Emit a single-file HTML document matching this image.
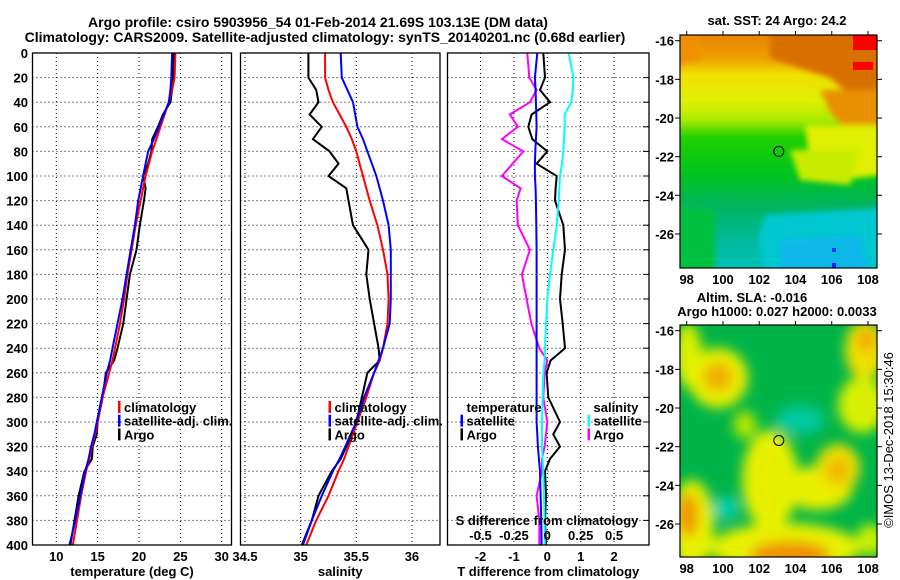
<!DOCTYPE html>
<html><head><meta charset="utf-8"><style>
html,body{margin:0;padding:0;background:#fff;}
svg{display:block;font-family:"Liberation Sans",sans-serif;font-weight:bold;}
</style></head><body>
<svg id="chart" width="900" height="580" viewBox="0 0 900 580" xmlns="http://www.w3.org/2000/svg">
<defs>
<filter id="blur1" x="-50%" y="-50%" width="200%" height="200%"><feGaussianBlur stdDeviation="6"/></filter>
<filter id="blur2" x="-50%" y="-50%" width="200%" height="200%"><feGaussianBlur stdDeviation="3"/></filter>
<clipPath id="clipM1"><rect x="680" y="35" width="197" height="233"/></clipPath>
<clipPath id="clipM2"><rect x="680" y="325" width="197" height="232"/></clipPath>
<linearGradient id="sstGrad" x1="0" y1="0" x2="0" y2="1">
<stop offset="0" stop-color="#e88400"/><stop offset="0.1" stop-color="#f0a000"/>
<stop offset="0.17" stop-color="#f0e000"/><stop offset="0.28" stop-color="#e0f000"/>
<stop offset="0.36" stop-color="#b0ec00"/><stop offset="0.44" stop-color="#20d000"/>
<stop offset="0.6" stop-color="#00c420"/><stop offset="0.72" stop-color="#00b458"/>
<stop offset="0.85" stop-color="#00b890"/><stop offset="1" stop-color="#00c0b8"/>
</linearGradient>
</defs>
<g font-size="14" text-anchor="middle">
<text x="318" y="27">Argo profile: csiro 5903956_54 01-Feb-2014 21.69S 103.13E (DM data)</text>
<text x="325" y="42">Climatology: CARS2009. Satellite-adjusted climatology: synTS_20140201.nc (0.68d earlier)</text>
</g>
<g id="panels"></g>

<!-- SST map -->
<g>
<text x="777" y="25" font-size="13" text-anchor="middle">sat. SST: 24 Argo: 24.2</text>
<g clip-path="url(#clipM1)">
<rect x="680" y="35" width="197" height="233" fill="url(#sstGrad)"/>
<g filter="url(#blur2)">
<polygon points="770,30 882,30 882,95 850,95 830,78 800,68 770,58" fill="#d87000"/>
<polygon points="675,30 700,30 700,60 675,65" fill="#f09000"/>
<polygon points="820,90 882,90 882,135 850,135 830,112" fill="#e89000"/>
<polygon points="805,125 882,125 882,175 840,180 810,165" fill="#e0ee00"/>
<polygon points="790,150 860,150 850,185 800,180" fill="#c8ec00"/>
<polygon points="765,215 882,208 882,272 765,272 758,240" fill="#00c8d0"/>
<polygon points="780,240 860,235 870,272 780,272" fill="#10b8e8"/>
<polygon points="675,205 715,210 715,272 675,272" fill="#00c040"/>
</g>
<rect x="853" y="35" width="24" height="15" fill="#ff0000"/>
<rect x="853" y="62" width="20" height="8" fill="#ff0000"/>
<rect x="832" y="248" width="4" height="4" fill="#0040ff"/>
<rect x="832" y="263" width="4" height="5" fill="#0020ff"/>
</g>
<rect x="680" y="35" width="197" height="233" fill="none" stroke="#000" stroke-width="1.2"/>
<circle cx="778.8" cy="151.4" r="5" fill="none" stroke="#000" stroke-width="1"/>
<g id="m1axes"></g>
</g>

<!-- SLA map -->
<g>
<text x="752" y="302" font-size="13" text-anchor="middle">Altim. SLA: -0.016</text>
<text x="777" y="316" font-size="13" text-anchor="middle">Argo h1000: 0.027 h2000: 0.0033</text>
<g clip-path="url(#clipM2)">
<rect x="680" y="325" width="197" height="232" fill="#00b448"/>
<g filter="url(#blur1)">
<ellipse cx="688" cy="355" rx="14" ry="32" fill="#d8f000"/>
<ellipse cx="718" cy="378" rx="30" ry="30" fill="#e8f000"/>
<ellipse cx="718" cy="377" rx="15" ry="15" fill="#f0b000"/>
<ellipse cx="692" cy="525" rx="22" ry="45" fill="#e8f000"/>
<ellipse cx="688" cy="515" rx="10" ry="22" fill="#f09000"/>
<ellipse cx="785" cy="548" rx="75" ry="25" fill="#e8f000"/>
<ellipse cx="790" cy="555" rx="40" ry="14" fill="#f09000"/>
<ellipse cx="770" cy="480" rx="28" ry="50" fill="#e8f000"/>
<ellipse cx="818" cy="488" rx="35" ry="22" fill="#e8f000"/>
<ellipse cx="838" cy="468" rx="22" ry="24" fill="#f0e000"/>
<ellipse cx="838" cy="470" rx="10" ry="12" fill="#f0b000"/>
<ellipse cx="865" cy="350" rx="20" ry="30" fill="#f0e000"/>
<ellipse cx="866" cy="340" rx="8" ry="12" fill="#f0a000"/>
<ellipse cx="862" cy="405" rx="24" ry="28" fill="#d8f000"/>
<ellipse cx="870" cy="540" rx="14" ry="16" fill="#c8f000"/>
<ellipse cx="800" cy="420" rx="24" ry="15" fill="#00c8a0"/>
<ellipse cx="726" cy="508" rx="12" ry="12" fill="#00d0b0"/>
<ellipse cx="745" cy="425" rx="12" ry="14" fill="#b0e800"/>
</g>
</g>
<rect x="680" y="325" width="197" height="232" fill="none" stroke="#000" stroke-width="1.2"/>
<circle cx="778.8" cy="440.5" r="5" fill="none" stroke="#000" stroke-width="1"/>
<g id="m2axes"></g>
</g>
<text transform="translate(893,440) rotate(-90)" font-size="13" font-weight="normal" text-anchor="middle">©IMOS 13-Dec-2018 15:30:46</text>

<script>
// ---------- data ----------
const depths = [0,20,30,40,50,60,70,80,90,100,110,120,140,160,180,200,220,240,250,260,280,300,310,320,330,340,360,380,400];
const tempClim = [24.4,24.3,24.0,23.6,23.1,22.6,22.1,21.6,21.2,20.8,20.5,20.2,19.6,19.1,18.6,18.2,17.7,17.1,16.8,16.4,15.6,15.0,14.7,14.3,14.0,13.6,13.0,12.5,12.0];
const tempSat = [24.0,23.9,23.8,23.6,23.0,22.4,21.8,21.1,20.8,20.5,20.2,19.9,19.5,19.0,18.5,18.0,17.4,16.8,16.5,16.1,15.5,14.9,14.6,14.2,13.9,13.5,12.9,12.3,11.6];
const tempArgo = [24.2,24.1,24.0,23.8,22.9,22.3,21.6,21.5,21.1,20.5,20.8,20.6,20.1,19.7,18.9,18.5,18.1,17.4,17.0,16.0,15.6,15.0,14.9,14.4,14.3,13.4,12.7,12.2,11.7];
const salClim = [35.22,35.22,35.25,35.29,35.35,35.41,35.46,35.50,35.53,35.56,35.59,35.62,35.69,35.74,35.78,35.79,35.78,35.74,35.71,35.66,35.59,35.51,35.47,35.43,35.39,35.34,35.25,35.14,35.05];
const salSat = [35.36,35.37,35.42,35.47,35.49,35.51,35.56,35.60,35.64,35.68,35.71,35.74,35.79,35.81,35.81,35.81,35.80,35.74,35.70,35.66,35.57,35.50,35.45,35.40,35.35,35.29,35.19,35.10,35.02];
const salArgo = [35.07,35.07,35.14,35.16,35.08,35.19,35.11,35.26,35.34,35.25,35.41,35.43,35.47,35.61,35.59,35.62,35.66,35.70,35.71,35.60,35.55,35.50,35.46,35.41,35.36,35.28,35.16,35.10,35.01];
const dTempSat = [-0.30,-0.37,-0.35,-0.34,-0.33,-0.32,-0.34,-0.36,-0.37,-0.37,-0.35,-0.34,-0.33,-0.32,-0.32,-0.32,-0.32,-0.32,-0.32,-0.32,-0.32,-0.32,-0.30,-0.28,-0.25,-0.22,-0.20,-0.18,-0.17];
const dTempArgo = [-0.12,-0.07,-0.22,0.08,-0.47,-0.57,-0.45,0.0,-0.32,0.28,0.25,0.23,0.48,0.53,0.43,0.38,0.46,0.53,0.1,-0.02,0.03,0.38,0.18,0.38,0.08,-0.07,-0.04,-0.07,-0.04];
const dSalSat = [0.16,0.195,0.19,0.18,0.13,0.13,0.125,0.12,0.11,0.095,0.09,0.085,0.07,0.045,0.02,0.0,-0.01,-0.018,-0.02,-0.03,-0.035,-0.04,-0.04,-0.04,-0.035,-0.03,-0.025,-0.02,-0.018];
const dSalArgo = [-0.15,-0.135,-0.08,-0.13,-0.28,-0.22,-0.34,-0.18,-0.26,-0.34,-0.2,-0.23,-0.22,-0.13,-0.19,-0.155,-0.12,-0.06,0.0,-0.02,-0.03,0.0,-0.01,-0.02,-0.04,-0.04,-0.08,-0.06,-0.06];
const depthTicks = [0,20,40,60,80,100,120,140,160,180,200,220,240,260,280,300,320,340,360,380,400];
const tempTicks = [10,15,20,25,30];
const salTicks = [34.5,35,35.5,36];
const dTempTicks = [-2,-1,0,1,2];
const dSalTickLabels = ["-0.5","-0.25","0","0.25","0.5"];
const latTicks = [-16,-18,-20,-22,-24,-26];
const lonTicks = [98,100,102,104,106,108];

// ---------- scales ----------
const NS = "http://www.w3.org/2000/svg";
const TOP = 53, BOT = 545;
const yD = d => TOP + (BOT - TOP) * d / 400;
const xT = t => 56.3 + (t - 10) * 8.27;
const xS = s => 245 + (s - 34.5) * 111.3;
const xDT = v => 547.3 + v * 33.4;
const xDS = v => 547.3 + v * 133.6;
const latY1 = la => 40.7 + (-16 - la) * 19.33;
const latY2 = la => 330.7 + (-16 - la) * 19.33;
const lonX = lo => 686.7 + (lo - 98) * 18.13;

function mk(tag, attrs, parent) {
  const e = document.createElementNS(NS, tag);
  for (const k in attrs) e.setAttribute(k, attrs[k]);
  parent.appendChild(e);
  return e;
}
const root = document.getElementById('panels');

function panel(name, x0, x1, xTicks, xfn, xLabels, xTitle, showY) {
  const g = mk('g', {}, root);
  
  
  depthTicks.forEach(d => {
    if (d === 0 || d === 400) return;
    const l = mk('line', {x1: x0, x2: x1, y1: yD(d), y2: yD(d), stroke: '#000', 'stroke-width': 1, 'stroke-dasharray': '1,3'}, g);
    
    
  });
  xTicks.forEach((t, i) => {
    const x = xfn(t);
    if (x > x0 + 2 && x < x1 - 2) {
      const l = mk('line', {x1: x, x2: x, y1: TOP, y2: BOT, stroke: '#000', 'stroke-width': 1, 'stroke-dasharray': '1,3'}, g);
      
      
    }
    const tx = mk('text', {x: x, y: 561, 'font-size': 13, 'text-anchor': 'middle'}, g);
    tx.textContent = xLabels[i];
    
    
  });
  const tt = mk('text', {x: (x0 + x1) / 2, y: 576, 'font-size': 13, 'text-anchor': 'middle'}, g);
  tt.textContent = xTitle;
  
  
  if (showY) {
    depthTicks.forEach(d => {
      const ty = mk('text', {x: 28, y: yD(d) + 5, 'font-size': 13, 'text-anchor': 'end'}, g);
      ty.textContent = d;
      
      
    });
  }
  return g;
}
function series(g, name, xs, xfn, color) {
  const pts = depths.map((d, i) => xfn(xs[i]).toFixed(1) + ',' + yD(d).toFixed(1)).join(' ');
  const p = mk('polyline', {points: pts, fill: 'none', stroke: color, 'stroke-width': 2, 'stroke-linejoin': 'miter'}, g);
  
  
}
function frame(g, x0, x1) {
  const r = mk('rect', {x: x0, y: TOP, width: x1 - x0, height: BOT - TOP, fill: 'none', stroke: '#000', 'stroke-width': 1.3}, g);
  
  
}
function legend(g, name, x, rows) {
  const lg = mk('g', {}, g);
  
  
  rows.forEach((r, i) => {
    const y = 407 + i * 13.7;
    if (r[1]) {
      const b = mk('rect', {x: x, y: y - 6, width: 2.5, height: 12, fill: r[1]}, lg);
      
      
    }
    const t = mk('text', {x: x + 6, y: y + 5, 'font-size': 13}, lg);
    t.textContent = r[0];
    
    
  });
}

const p1 = panel('temperature-panel', 32.5, 231.5, tempTicks, xT, tempTicks, 'temperature (deg C)', true);
series(p1, 'temp-argo-line', tempArgo, xT, '#000');
series(p1, 'temp-clim-line', tempClim, xT, '#ff0000');
series(p1, 'temp-sat-line', tempSat, xT, '#0000ff');
frame(p1, 32.5, 231.5);
legend(p1, 'temp-legend', 118, [['climatology', '#ff0000'], ['satellite-adj. clim.', '#0000ff'], ['Argo', '#000']]);

const p2 = panel('salinity-panel', 240.5, 440, salTicks, xS, salTicks, 'salinity', false);
series(p2, 'sal-argo-line', salArgo, xS, '#000');
series(p2, 'sal-clim-line', salClim, xS, '#ff0000');
series(p2, 'sal-sat-line', salSat, xS, '#0000ff');
frame(p2, 240.5, 440);
legend(p2, 'sal-legend', 328.5, [['climatology', '#ff0000'], ['satellite-adj. clim.', '#0000ff'], ['Argo', '#000']]);

const p3 = panel('difference-panel', 447.5, 649, dTempTicks, xDT, dTempTicks, 'T difference from climatology', false);
series(p3, 'dtemp-argo-line', dTempArgo, xDT, '#000');
series(p3, 'dsal-argo-line', dSalArgo, xDS, '#ff00ff');
series(p3, 'dtemp-sat-line', dTempSat, xDT, '#0000ff');
series(p3, 'dsal-sat-line', dSalSat, xDS, '#00ffff');
frame(p3, 447.5, 649);
legend(p3, 'dtemp-legend', 460.5, [['temperature', null], ['satellite', '#0000ff'], ['Argo', '#000']]);
legend(p3, 'dsal-legend', 587.5, [['salinity', null], ['satellite', '#00ffff'], ['Argo', '#ff00ff']]);
(function () {
  const st = mk('text', {x: 547, y: 525, 'font-size': 13, 'text-anchor': 'middle'}, p3);
  st.textContent = 'S difference from climatology';
  
  
  [-0.5, -0.25, 0, 0.25, 0.5].forEach((v, i) => {
    const t = mk('text', {x: xDS(v), y: 540, 'font-size': 13, 'text-anchor': 'middle'}, p3);
    t.textContent = dSalTickLabels[i];
    
    
  });
  depthTicks.forEach(d => {
    const l = mk('line', {x1: 643, x2: 649, y1: yD(d), y2: yD(d), stroke: '#000', 'stroke-width': 1}, p3);
    
    
  });
})();

function mapAxes(id, yfn, top, bot) {
  const g = document.getElementById(id);
  latTicks.forEach(la => {
    const y = yfn(la);
    const t = mk('text', {x: 674, y: y + 5, 'font-size': 13, 'text-anchor': 'end'}, g);
    t.textContent = la;
    
    
    const l = mk('line', {x1: 675, x2: 680, y1: y, y2: y, stroke: '#000'}, g);
    
    
    const l2 = mk('line', {x1: 877, x2: 882, y1: y, y2: y, stroke: '#000'}, g);
    
    
  });
  lonTicks.forEach(lo => {
    const x = lonX(lo);
    const t = mk('text', {x: x, y: bot + 16, 'font-size': 13, 'text-anchor': 'middle'}, g);
    t.textContent = lo;
    
    
    const l = mk('line', {x1: x, x2: x, y1: top - 4, y2: top, stroke: '#000'}, g);
    
    
  });
}
mapAxes('m1axes', latY1, 35, 268);
mapAxes('m2axes', latY2, 325, 557);
</script>
</svg>
</body></html>
